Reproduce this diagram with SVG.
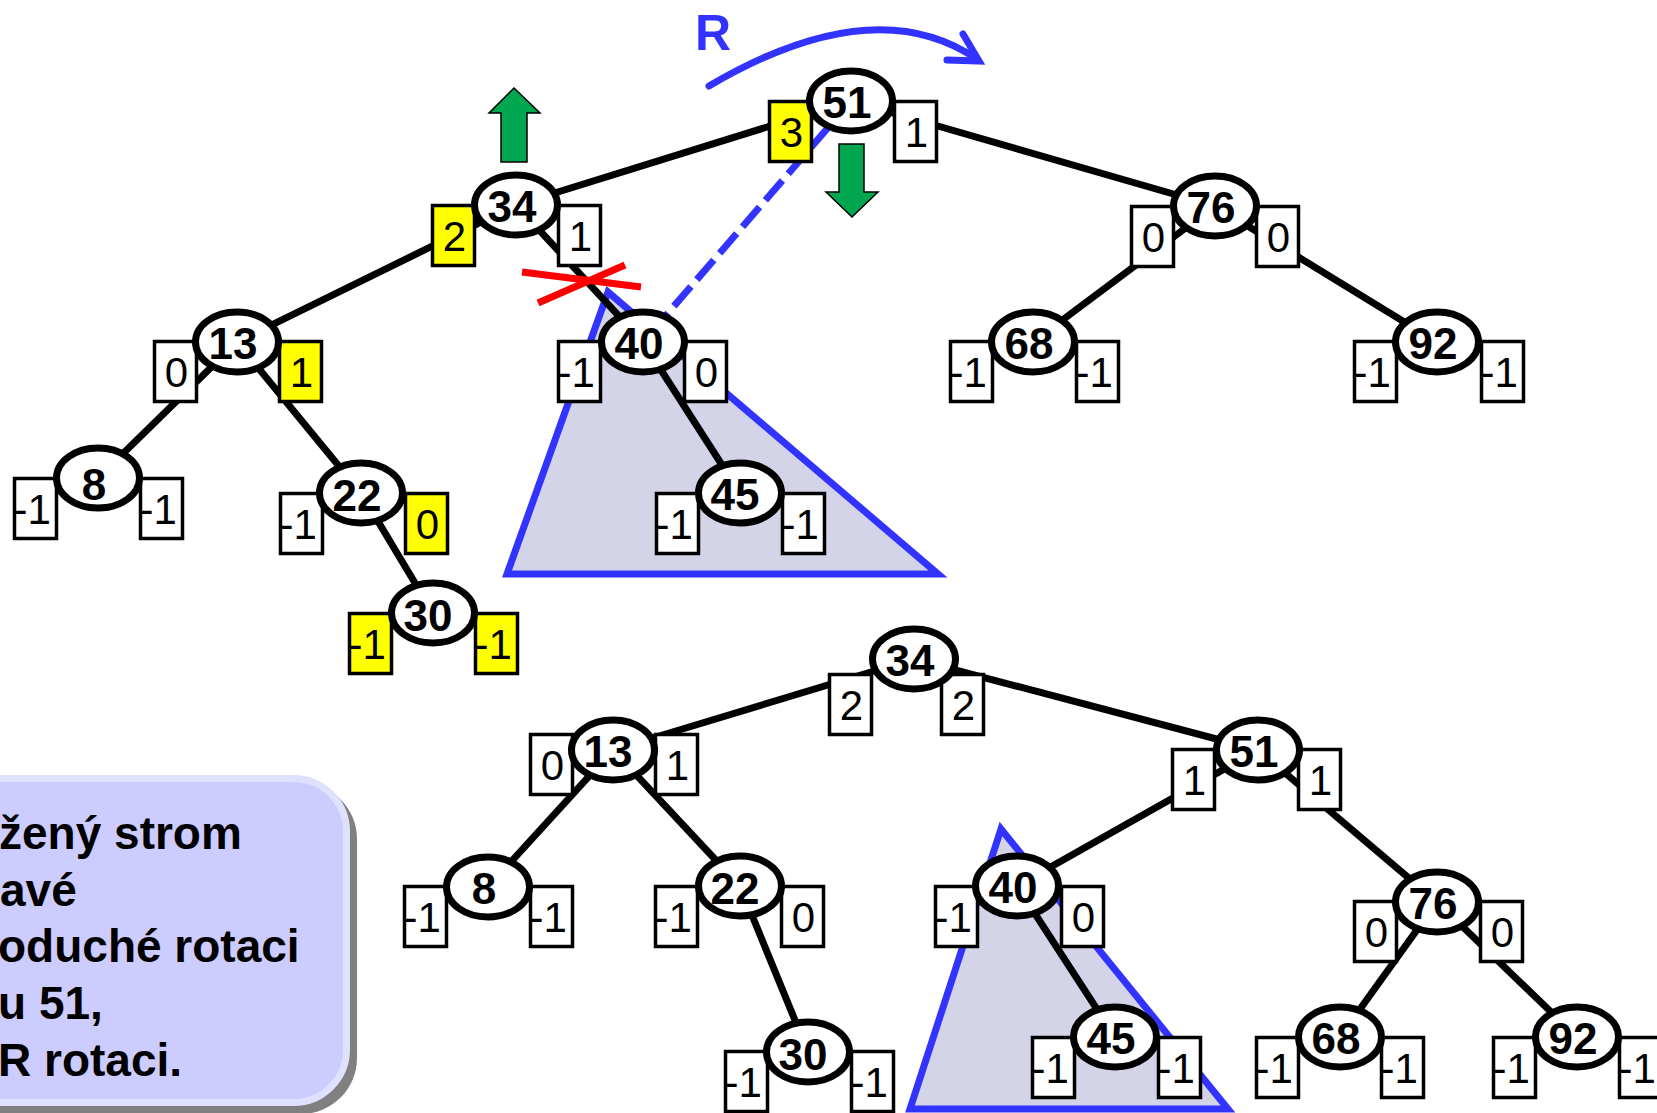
<svg xmlns="http://www.w3.org/2000/svg" width="1657" height="1113" viewBox="0 0 1657 1113">
<style>
.e{stroke:#000;stroke-width:7;fill:none}
.b{fill:#fff;stroke:#000;stroke-width:3.5}
.y{fill:#ff0}
.n{fill:#fff;stroke:#000;stroke-width:7}
.lbl{font-family:"Liberation Sans",Arial,sans-serif;font-weight:bold;font-size:44px;text-anchor:middle;fill:#000}
.bt{font-family:"Liberation Sans",Arial,sans-serif;font-size:42px;text-anchor:middle;fill:#000}
.bm{font-family:"Liberation Sans",Arial,sans-serif;font-size:42px;text-anchor:start;fill:#000}
.tri{fill:#d4d4e9;stroke:#3333ff;stroke-width:7;stroke-linejoin:miter}
.ga{fill:#00a650;stroke:#000;stroke-width:1.5}
.cap{font-family:"Liberation Sans",Arial,sans-serif;font-weight:bold;font-size:46px;text-anchor:start;fill:#000}
</style>
<rect x="0" y="0" width="1657" height="1113" fill="#fff"/>

<g id="callout">
<rect x="-52" y="783" width="409" height="331" rx="56" fill="#808080"/>
<rect x="-60" y="778.5" width="406.5" height="324" rx="53" fill="#ccccff" stroke="#e0e0ff" stroke-width="7"/>
<text class="cap" x="-1" y="849">žený strom</text>
<text class="cap" x="0" y="906">avé</text>
<text class="cap" x="-2" y="962">oduché rotaci</text>
<text class="cap" x="-2" y="1019">u 51,</text>
<text class="cap" x="-2" y="1076">R rotaci.</text>
</g>

<g id="triangles">
<polygon class="tri" points="608,292 507,574 938,574"/>
<polygon class="tri" points="1001,829 910,1109 1228,1109"/>
</g>

<g id="connectors">
<line class="e" x1="851" y1="101" x2="516" y2="205"/>
<line class="e" x1="851" y1="101" x2="1215" y2="206"/>
<line class="e" x1="516" y1="205" x2="237" y2="342"/>
<line class="e" x1="516" y1="205" x2="643" y2="342"/>
<line class="e" x1="237" y1="342" x2="98" y2="478"/>
<line class="e" x1="237" y1="342" x2="361" y2="493"/>
<line class="e" x1="361" y1="493" x2="433" y2="613"/>
<line class="e" x1="643" y1="342" x2="740" y2="493"/>
<line class="e" x1="1215" y1="206" x2="1033" y2="342"/>
<line class="e" x1="1215" y1="206" x2="1437" y2="342"/>
<line class="e" x1="914" y1="659" x2="613" y2="750"/>
<line class="e" x1="914" y1="659" x2="1258" y2="750"/>
<line class="e" x1="613" y1="750" x2="488" y2="887"/>
<line class="e" x1="613" y1="750" x2="740" y2="886"/>
<line class="e" x1="740" y1="886" x2="808" y2="1052"/>
<line class="e" x1="1258" y1="750" x2="1017" y2="886"/>
<line class="e" x1="1258" y1="750" x2="1437" y2="902"/>
<line class="e" x1="1017" y1="886" x2="1115" y2="1037"/>
<line class="e" x1="1437" y1="902" x2="1340" y2="1037"/>
<line class="e" x1="1437" y1="902" x2="1577" y2="1037"/>
<line x1="851" y1="101" x2="643" y2="342" stroke="#3333ff" stroke-width="7" stroke-dasharray="26 9"/>
</g>

<g id="n51t">
<rect class="b y" x="769.5" y="101.5" width="42" height="60"/><text class="bt" x="791.5" y="147">3</text>
<rect class="b" x="894.5" y="101.5" width="42" height="60"/><text class="bt" x="916.5" y="147">1</text>
<ellipse class="n" cx="851" cy="101" rx="41.5" ry="30"/><text class="lbl" x="847" y="118">51</text>
</g>
<g id="n34t">
<rect class="b y" x="432.5" y="205.5" width="42" height="60"/><text class="bt" x="454.5" y="251">2</text>
<rect class="b" x="558.5" y="205.5" width="42" height="60"/><text class="bt" x="580.5" y="251">1</text>
<ellipse class="n" cx="516" cy="205" rx="41.5" ry="30"/><text class="lbl" x="512" y="222">34</text>
</g>
<g id="n76t">
<rect class="b" x="1131.5" y="206.5" width="42" height="60"/><text class="bt" x="1153.5" y="252">0</text>
<rect class="b" x="1256.5" y="206.5" width="42" height="60"/><text class="bt" x="1278.5" y="252">0</text>
<ellipse class="n" cx="1215" cy="206" rx="41.5" ry="30"/><text class="lbl" x="1211" y="223">76</text>
</g>
<g id="n13t">
<rect class="b" x="154.5" y="341.5" width="42" height="60"/><text class="bt" x="176.5" y="387">0</text>
<rect class="b y" x="279.5" y="341.5" width="42" height="60"/><text class="bt" x="301.5" y="387">1</text>
<ellipse class="n" cx="237" cy="342" rx="41.5" ry="30"/><text class="lbl" x="233" y="359">13</text>
</g>
<g id="n40t">
<rect class="b" x="558.5" y="341.5" width="42" height="60"/><text class="bm" x="557.5" y="387">-1</text>
<rect class="b" x="684.5" y="341.5" width="42" height="60"/><text class="bt" x="706.5" y="387">0</text>
<ellipse class="n" cx="643" cy="342" rx="41.5" ry="30"/><text class="lbl" x="639" y="359">40</text>
</g>
<g id="n68t">
<rect class="b" x="950.5" y="341.5" width="42" height="60"/><text class="bm" x="949.5" y="387">-1</text>
<rect class="b" x="1076.5" y="341.5" width="42" height="60"/><text class="bm" x="1075.5" y="387">-1</text>
<ellipse class="n" cx="1033" cy="342" rx="41.5" ry="30"/><text class="lbl" x="1029" y="359">68</text>
</g>
<g id="n92t">
<rect class="b" x="1354.5" y="341.5" width="42" height="60"/><text class="bm" x="1353.5" y="387">-1</text>
<rect class="b" x="1481.5" y="341.5" width="42" height="60"/><text class="bm" x="1480.5" y="387">-1</text>
<ellipse class="n" cx="1437" cy="342" rx="41.5" ry="30"/><text class="lbl" x="1433" y="359">92</text>
</g>
<g id="n8t">
<rect class="b" x="14.5" y="478.5" width="42" height="60"/><text class="bm" x="13.5" y="524">-1</text>
<rect class="b" x="140.5" y="478.5" width="42" height="60"/><text class="bm" x="139.5" y="524">-1</text>
<ellipse class="n" cx="98" cy="478" rx="41.5" ry="30"/><text class="lbl" x="94" y="500">8</text>
</g>
<g id="n22t">
<rect class="b" x="280.5" y="493.5" width="42" height="60"/><text class="bm" x="279.5" y="539">-1</text>
<rect class="b y" x="405.5" y="493.5" width="42" height="60"/><text class="bt" x="427.5" y="539">0</text>
<ellipse class="n" cx="361" cy="493" rx="41.5" ry="30"/><text class="lbl" x="357" y="511">22</text>
</g>
<g id="n45t">
<rect class="b" x="656.5" y="493.5" width="42" height="60"/><text class="bm" x="655.5" y="539">-1</text>
<rect class="b" x="782.5" y="493.5" width="42" height="60"/><text class="bm" x="781.5" y="539">-1</text>
<ellipse class="n" cx="740" cy="493" rx="41.5" ry="30"/><text class="lbl" x="735" y="510">45</text>
</g>
<g id="n30t">
<rect class="b y" x="349.5" y="613.5" width="42" height="60"/><text class="bm" x="348.5" y="659">-1</text>
<rect class="b y" x="475.5" y="613.5" width="42" height="60"/><text class="bm" x="474.5" y="659">-1</text>
<ellipse class="n y" cx="433" cy="613" rx="41.5" ry="30"/><text class="lbl" x="428" y="631">30</text>
</g>

<g id="n34b">
<rect class="b" x="829.5" y="674.5" width="42" height="60"/><text class="bt" x="851.5" y="720">2</text>
<rect class="b" x="941.5" y="674.5" width="42" height="60"/><text class="bt" x="963.5" y="720">2</text>
<ellipse class="n" cx="914" cy="659" rx="41.5" ry="30"/><text class="lbl" x="910" y="676">34</text>
</g>
<g id="n13b">
<rect class="b" x="530.5" y="734.5" width="42" height="60"/><text class="bt" x="552.5" y="780">0</text>
<rect class="b" x="655.5" y="734.5" width="42" height="60"/><text class="bt" x="677.5" y="780">1</text>
<ellipse class="n" cx="613" cy="750" rx="41.5" ry="30"/><text class="lbl" x="608" y="767">13</text>
</g>
<g id="n51b">
<rect class="b" x="1172.5" y="749.5" width="42" height="60"/><text class="bt" x="1194.5" y="795">1</text>
<rect class="b" x="1298.5" y="749.5" width="42" height="60"/><text class="bt" x="1320.5" y="795">1</text>
<ellipse class="n" cx="1258" cy="750" rx="41.5" ry="30"/><text class="lbl" x="1254" y="767">51</text>
</g>
<g id="n8b">
<rect class="b" x="404.5" y="886.5" width="42" height="60"/><text class="bm" x="403.5" y="932">-1</text>
<rect class="b" x="530.5" y="886.5" width="42" height="60"/><text class="bm" x="529.5" y="932">-1</text>
<ellipse class="n" cx="488" cy="887" rx="41.5" ry="30"/><text class="lbl" x="484" y="904">8</text>
</g>
<g id="n22b">
<rect class="b" x="655.5" y="886.5" width="42" height="60"/><text class="bm" x="654.5" y="932">-1</text>
<rect class="b" x="781.5" y="886.5" width="42" height="60"/><text class="bt" x="803.5" y="932">0</text>
<ellipse class="n" cx="740" cy="886" rx="41.5" ry="30"/><text class="lbl" x="735" y="904">22</text>
</g>
<g id="n40b">
<rect class="b" x="935.5" y="886.5" width="42" height="60"/><text class="bm" x="934.5" y="932">-1</text>
<rect class="b" x="1061.5" y="886.5" width="42" height="60"/><text class="bt" x="1083.5" y="932">0</text>
<ellipse class="n" cx="1017" cy="886" rx="41.5" ry="30"/><text class="lbl" x="1013" y="903">40</text>
</g>
<g id="n76b">
<rect class="b" x="1354.5" y="901.5" width="42" height="60"/><text class="bt" x="1376.5" y="947">0</text>
<rect class="b" x="1480.5" y="901.5" width="42" height="60"/><text class="bt" x="1502.5" y="947">0</text>
<ellipse class="n" cx="1437" cy="902" rx="41.5" ry="30"/><text class="lbl" x="1433" y="919">76</text>
</g>
<g id="n30b">
<rect class="b" x="725.5" y="1051.5" width="42" height="60"/><text class="bm" x="724.5" y="1097">-1</text>
<rect class="b" x="851.5" y="1051.5" width="42" height="60"/><text class="bm" x="850.5" y="1097">-1</text>
<ellipse class="n" cx="808" cy="1052" rx="41.5" ry="30"/><text class="lbl" x="803" y="1070">30</text>
</g>
<g id="n45b">
<rect class="b" x="1032.5" y="1037.5" width="42" height="60"/><text class="bm" x="1031.5" y="1083">-1</text>
<rect class="b" x="1158.5" y="1037.5" width="42" height="60"/><text class="bm" x="1157.5" y="1083">-1</text>
<ellipse class="n" cx="1115" cy="1037" rx="41.5" ry="30"/><text class="lbl" x="1111" y="1054">45</text>
</g>
<g id="n68b">
<rect class="b" x="1256.5" y="1037.5" width="42" height="60"/><text class="bm" x="1255.5" y="1083">-1</text>
<rect class="b" x="1381.5" y="1037.5" width="42" height="60"/><text class="bm" x="1380.5" y="1083">-1</text>
<ellipse class="n" cx="1340" cy="1037" rx="41.5" ry="30"/><text class="lbl" x="1336" y="1054">68</text>
</g>
<g id="n92b">
<rect class="b" x="1493.5" y="1037.5" width="42" height="60"/><text class="bm" x="1492.5" y="1083">-1</text>
<rect class="b" x="1619.5" y="1037.5" width="42" height="60"/><text class="bm" x="1618.5" y="1083">-1</text>
<ellipse class="n" cx="1577" cy="1037" rx="41.5" ry="30"/><text class="lbl" x="1573" y="1054">92</text>
</g>

<g id="annotations">
<polygon class="ga" points="514,88 540,113 527,113 527,162 501,162 501,113 489,113"/>
<polygon class="ga" points="839,144 864,144 864,192 878,192 852,217 826,192 839,192"/>
<path d="M709,86 Q874,-11 977,59" fill="none" stroke="#3333ff" stroke-width="7" stroke-linecap="round"/>
<polyline points="963,34 979,61 947,60" fill="none" stroke="#3333ff" stroke-width="7" stroke-linecap="round" stroke-linejoin="miter"/>
<text x="695" y="50" font-family="Liberation Sans, Arial, sans-serif" font-weight="bold" font-size="50" fill="#3333ff">R</text>
<line x1="522" y1="272" x2="641" y2="287" stroke="#ff0000" stroke-width="7"/>
<line x1="538" y1="303" x2="625" y2="265" stroke="#ff0000" stroke-width="7"/>
</g>
</svg>
